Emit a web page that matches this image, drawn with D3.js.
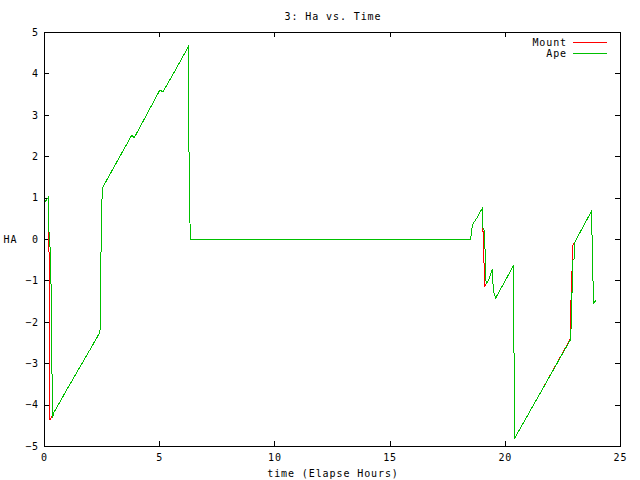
<!DOCTYPE html>
<html><head><meta charset="utf-8">
<script src="https://cdn.jsdelivr.net/npm/d3@7"></script>
<style>
body{margin:0;background:#fff}
svg{display:block}
text{font-family:"DejaVu Sans Mono",monospace;font-size:10px;letter-spacing:0.9px;fill:#000}
</style>
</head><body>
<svg id="c" width="640" height="480"></svg>
<script>
const title = "3: Ha vs. Time";
const xLabel = "time (Elapse Hours)";
const yLabel = "HA";
const xTicks = [0, 5, 10, 15, 20, 25];
const yTicks = [-5, -4, -3, -2, -1, 0, 1, 2, 3, 4, 5];
const seriesNames = ["Mount", "Ape"];
const seriesColors = ["#ff0000", "#00c000"];

const apeTime = [0.03,0.19,0.21,0.27,0.28,0.33,0.34,0.36,0.37,0.38,0.42,1.0,1.5,2.0,2.43,
  2.45,2.49,2.53,2.58,3.2,3.81,3.91,4.5,5.03,5.16,5.7,6.26,6.27,6.31,6.35,
  18.52,18.56,18.63,18.78,18.92,19.02,19.04,19.10,19.12,19.15,19.17,19.21,19.33,19.46,
  19.50,19.60,20.37,20.39,20.41,20.43,21.5,22.86,22.87,22.90,22.91,22.95,22.96,23.01,23.02,
  23.40,23.75,23.76,23.80,23.81,23.84,23.85,23.95];
const apeHA = [0.88,1.01,0.24,-0.27,-1.06,-1.10,-3.24,-3.30,-4.08,-4.32,-4.20,-3.63,-3.15,-2.67,-2.25,
  -1.35,0.34,1.22,1.28,1.90,2.51,2.44,3.05,3.60,3.55,4.08,4.64,3.48,1.17,0.0,
  0.0,0.22,0.38,0.50,0.64,0.74,0.27,0.22,-0.22,-0.25,-0.99,-1.07,-0.95,-0.72,
  -1.23,-1.43,-0.65,-2.74,-2.76,-4.81,-3.76,-2.42,-2.22,-1.86,-1.30,-1.25,-0.51,-0.48,-0.10,
  0.30,0.66,0.12,0.08,-0.99,-1.02,-1.55,-1.49];

const mountTime = [0.03,0.19,0.19,0.19,0.22,0.23,0.27,0.42,1.0,1.5,2.0,2.43,
  2.45,2.49,2.53,2.58,3.2,3.81,3.91,4.5,5.03,5.16,5.7,6.26,6.27,6.31,6.35,
  18.52,18.56,18.63,18.78,18.92,19.02,19.02,19.05,19.10,19.11,19.15,19.21,19.33,19.46,
  19.50,19.60,20.37,20.38,20.41,20.43,21.5,22.84,22.85,22.92,22.95,23.02,
  23.40,23.75,23.76,23.80,23.81,23.84,23.85,23.95];
const mountHA = [0.88,1.01,0.75,-0.30,-0.32,-4.35,-4.37,-4.20,-3.63,-3.15,-2.67,-2.25,
  -1.35,0.34,1.22,1.28,1.90,2.51,2.44,3.05,3.60,3.55,4.08,4.64,3.48,1.17,0.0,
  0.0,0.22,0.38,0.50,0.64,0.74,0.28,0.25,-0.63,-1.14,-1.12,-1.07,-0.95,-0.72,
  -1.23,-1.43,-0.65,-2.72,-2.76,-4.81,-3.76,-2.42,-1.88,-0.75,-0.15,-0.10,
  0.30,0.66,0.12,0.08,-0.99,-1.02,-1.55,-1.49];

const svg = d3.select("#c");
const x = d3.scaleLinear().domain([0, 25]).range([44, 620]);
const y = d3.scaleLinear().domain([-5, 5]).range([446, 32]);

function styleAxis(g){
  g.select(".domain").remove();
  g.selectAll("line").attr("stroke", "#000").attr("shape-rendering", "crispEdges");
  g.attr("font-family", null).attr("font-size", null);
  g.selectAll("text").attr("fill", "#000");
}

svg.append("g").attr("transform", "translate(0,446)")
  .call(d3.axisBottom(x).tickValues(xTicks).tickSize(-5).tickSizeOuter(0).tickPadding(8).tickFormat(d3.format("d")))
  .call(styleAxis);
svg.append("g").attr("transform", "translate(0,32)")
  .call(d3.axisTop(x).tickValues(xTicks).tickSize(-5).tickSizeOuter(0).tickFormat(""))
  .call(styleAxis);
svg.append("g").attr("transform", "translate(44,0)")
  .call(d3.axisLeft(y).tickValues(yTicks).tickSize(-5).tickSizeOuter(0).tickPadding(5).tickFormat(d3.format("d")))
  .call(styleAxis);
svg.append("g").attr("transform", "translate(620,0)")
  .call(d3.axisRight(y).tickValues(yTicks).tickSize(-5).tickSizeOuter(0).tickFormat(""))
  .call(styleAxis);

svg.append("rect").attr("x", 44.5).attr("y", 32.5).attr("width", 576).attr("height", 414)
  .attr("fill", "none").attr("stroke", "#000").attr("shape-rendering", "crispEdges");

const line = d3.line().x(d => x(d[0])).y(d => y(d[1])).curve(d3.curveLinear);
const mountData = mountTime.map((t, i) => [t, mountHA[i]]);
const apeData = apeTime.map((t, i) => [t, apeHA[i]]);

svg.append("path").datum(mountData).attr("d", line).attr("fill", "none")
  .attr("stroke", seriesColors[0]).attr("stroke-width", 1).attr("shape-rendering", "crispEdges");
svg.append("path").datum(apeData).attr("d", line).attr("fill", "none")
  .attr("stroke", seriesColors[1]).attr("stroke-width", 1).attr("shape-rendering", "crispEdges");

// Legend
seriesNames.forEach((n, i) => {
  const ly = 42.5 + i * 11;
  svg.append("text").attr("x", 567).attr("y", ly + 3.5).attr("text-anchor", "end").text(n);
  svg.append("line").attr("x1", 573).attr("x2", 607).attr("y1", ly).attr("y2", ly)
    .attr("stroke", seriesColors[i]).attr("stroke-width", 1).attr("shape-rendering", "crispEdges");
});

svg.append("text").attr("x", 333).attr("y", 19.5).attr("text-anchor", "middle").text(title);
svg.append("text").attr("x", 333).attr("y", 477).attr("text-anchor", "middle").text(xLabel);
svg.append("text").attr("x", 10.5).attr("y", 242.5).attr("text-anchor", "middle").text(yLabel);
</script>
</body></html>
